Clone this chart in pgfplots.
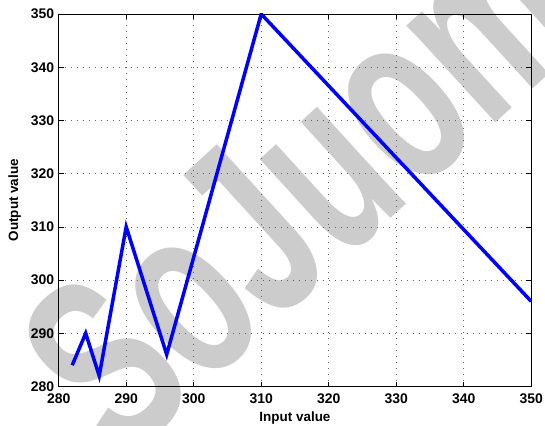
\documentclass[border=0pt]{standalone}
\usepackage{graphicx}
\usepackage{pgfplots}
\pgfplotsset{compat=1.18}
\usepackage{fontspec}
\setmainfont{Liberation Sans}
\begin{document}
\begin{tikzpicture}[x=1bp,y=1bp]
% watermark
\node[rotate=42.4, text=black!20, inner sep=0pt, anchor=center] at (300,240)
  {\scalebox{0.65}[1]{\fontsize{250}{250}\selectfont\bfseries SoJuom}};
\begin{axis}[
  at={(58.7bp,38.5bp)}, anchor=south west,
  scale only axis, width=472.5bp, height=372.5bp,
  xmin=280, xmax=350, ymin=280, ymax=350,
  xtick={280,290,...,350}, ytick={280,290,...,350},
  grid=major,
  major grid style={dash pattern=on 1bp off 5bp, line width=0.7bp, black!60},
  tick align=inside,
  major tick length=5bp,
  axis line style={line width=0.75bp, black},
  every tick/.style={black, line width=0.6bp},
  /pgf/number format/assume math mode=true,
  /pgf/number format/1000 sep={},
  tick label style={font=\fontsize{14}{16}\selectfont\bfseries},
  xticklabel style={yshift=-4bp},
  yticklabel style={xshift=-1bp},
  label style={font=\fontsize{13.5}{15}\selectfont\bfseries},
  xlabel={Input value},
  ylabel={Output value},
  xlabel style={at={([yshift=-35bp]axis description cs:0.5,0)}, anchor=base},
  ylabel style={at={([xshift=-44bp]axis description cs:0,0.5)}, anchor=center},
]
\addplot[blue, line width=3.5bp, line join=miter] coordinates {
  (282,284) (284,290) (286,282) (290,310) (296,286) (310,350) (350,296)
};
\end{axis}
\pgfresetboundingbox
\path[use as bounding box] (0,0) rectangle (545,425);
\end{tikzpicture}
\end{document}
